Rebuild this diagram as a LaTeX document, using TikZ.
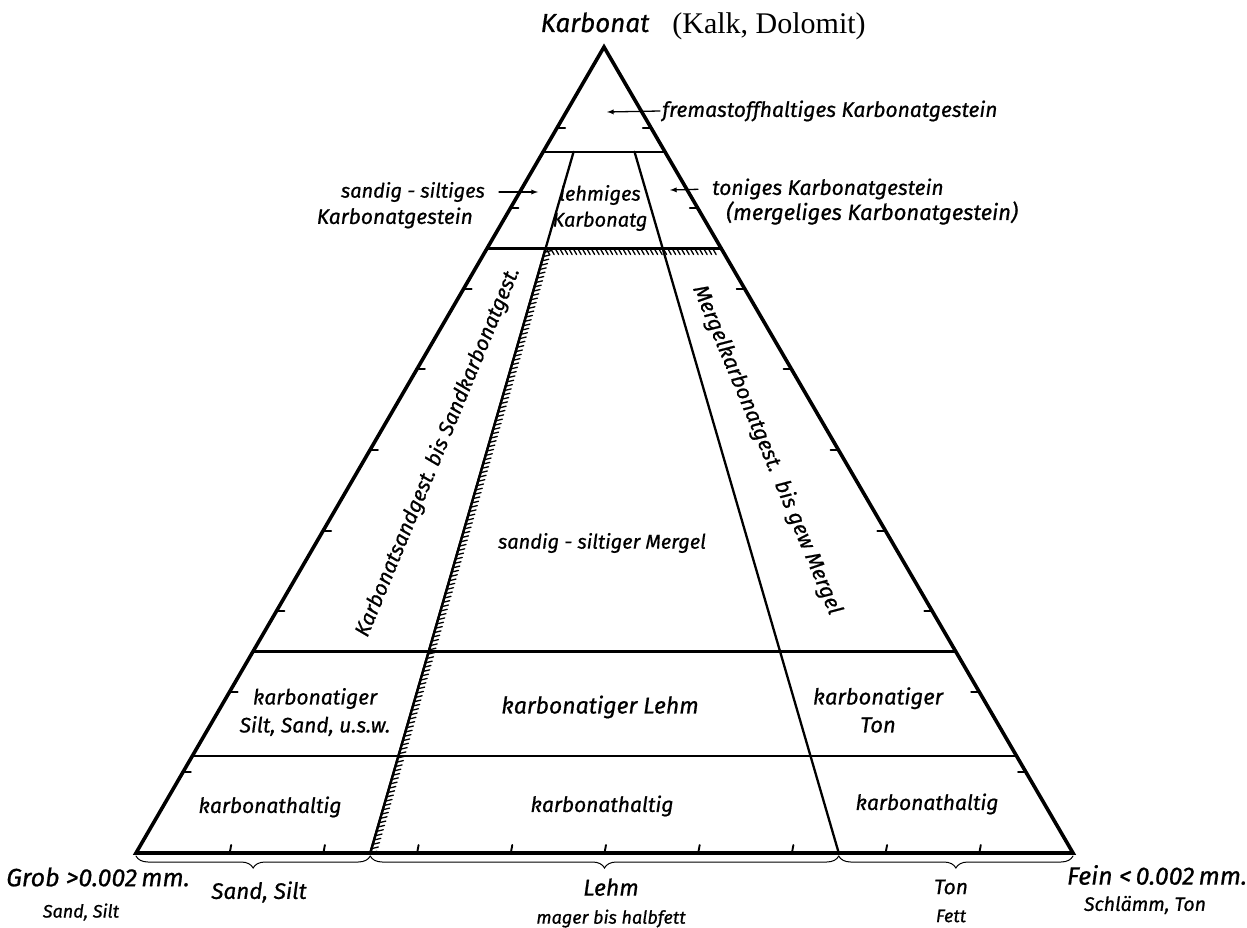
\documentclass[tikz,border=0pt]{standalone}
\usepackage{fontspec}
\setmainfont{Fira Sans}[FakeBold=0.7]
\newfontfamily\serifrm{Liberation Serif}
\usetikzlibrary{calc,positioning,decorations.pathreplacing}
\tikzset{
rand/.style={line width=3.6pt, line join=miter}, % outline of the triangle
grenze/.style={line width=2.3pt}, % class boundaries
skala/.style={line width=1.9pt}, % the 10 % marks
schraffur/.style={grenze, postaction={draw, decorate, line width=1.3pt,
    decoration={border, segment length=4.5pt, amplitude=7pt, angle=60, mirror}}},
klammer/.style={line width=1pt, decorate, decoration={brace, mirror, amplitude=12pt}},
pfeil/.style={->, line width=1.3pt},
txt/.style={font=\itshape\fontsize{21}{28}\selectfont, inner sep=2pt},
gross/.style={font=\itshape\fontsize{25}{30}\selectfont, inner sep=2pt},
klein/.style={font=\itshape\fontsize{18}{20}\selectfont, inner sep=2pt},
}
\newcommand{\fs}[1]{\fontsize{#1}{#1}\selectfont}

\begin{document}
\begin{tikzpicture}[x=1pt,y=-1pt,>=latex,line cap=round]
        \useasboundingbox (0,0) rectangle (1247,928);
        \coordinate (grob) at (136,853);
        \coordinate (fein) at (1073,853);
        \coordinate (karb) at (604,47);
        \coordinate (b25) at ($(grob)!0.25!(fein)$);
        \coordinate (b75) at ($(grob)!0.75!(fein)$);
        % waagrechte Grenzen
        \foreach \t in {0.12,0.25,0.75,0.87}
            \draw[grenze] ($(grob)!\t!(karb)$) -- ($(fein)!\t!(karb)$);
        % Strahlen zur Spitze
        \draw[grenze] (b25) -- ($(b25)!0.87!(karb)$);
        \draw[grenze] (b75) -- ($(b75)!0.87!(karb)$);
        \draw[schraffur] (b25) -- ($(b25)!0.75!(karb)$) -- ($(fein)!0.75!(karb)$);
        % Teilstriche
        \foreach \k in {1,...,9}{
            \draw[skala] ($(grob)!\k/10!(karb)$) -- ++(8,0);
            \draw[skala] ($(fein)!\k/10!(karb)$) -- ++(-8,0);
            \draw[skala] ($(grob)!\k/10!(fein)$) -- ++(1.5,-8);
        }
        \draw[rand] (grob) -- (karb) -- (fein) -- cycle;
        % Klammern unten
        \draw[klammer] ($(grob)+(0,3)$) -- ($(b25)+(0,3)$);
        \draw[klammer] ($(b25)+(0,3)$) -- ($(b75)+(0,3)$);
        \draw[klammer] ($(b75)+(0,3)$) -- ($(fein)+(0,3)$);

        \node[font=\itshape\fs{26}, anchor=base] (karbtxt) at (595,32) {Karbonat};
        \node[font=\serifrm\fs{30}, anchor=base] (kalk) at (769,34) {(Kalk, Dolomit)};

        \node[txt, anchor=west] (fremd) at (660,111) {fremastoffhaltiges Karbonatgestein};
        \coordinate (fremdpfeil) at (607,112);
        \draw[pfeil] (fremd.west) -- (fremdpfeil);

        \node[txt, font=\itshape\fs{20}, anchor=east] (sand1) at (487,192) {sandig - siltiges};
        \node[txt, anchor=east] (sand2) at (475,218) {Karbonatgestein};
        \coordinate (sandpfeil) at (538,192);
        \draw[pfeil, shorten <=12pt] (sand1.east) -- (sandpfeil);

        \node[txt, font=\itshape\fontsize{20}{26}\selectfont, align=center] (lehmkarb) at (600,208) {lehmiges\\Karbonatg};

        \node[txt, anchor=west] (ton1) at (710,189) {toniges Karbonatgestein};
        \node[txt, font=\itshape\fs{22}, anchor=west] (ton2) at (724,213) {(mergeliges Karbonatgestein)};
        \coordinate (tonpfeil) at (670,190);
        \draw[pfeil, shorten <=12pt] (ton1.west) -- (tonpfeil);

        \node[txt, rotate=67.5] (links) at (438,452) {Karbonatsandgest.\ bis Sandkarbonatgest.};
        \node[txt, font=\itshape\fs{21.5}, rotate=-67.3] (rechts) at (767,450) {Mergelkarbonatgest.\ \ bis gew Mergel};

        \node[txt, font=\itshape\fs{20}] (mergel) at (602,543) {sandig - siltiger Mergel};
        \node[txt, align=center] (ksilt) at (315,712) {karbonatiger\\Silt, Sand, u.s.w.};
        \node[txt, font=\itshape\fs{23}] (klehm) at (600,707) {karbonatiger Lehm};
        \node[txt, font=\itshape\fontsize{22}{28}\selectfont, align=center] (kton) at (878,710) {karbonatiger\\Ton};
        \node[txt] (khalt1) at (270,807) {karbonathaltig};
        \node[txt] (khalt2) at (602,806) {karbonathaltig};
        \node[txt] (khalt3) at (927,804) {karbonathaltig};

        \node[gross] (grobtxt) at (98,877) {Grob >0.002\,mm.};
        \node[klein] (grobsub) at (81,912) {Sand, Silt};
        \node[txt, font=\itshape\fs{22.5}] (sandsilt) at (259,892) {Sand, Silt};
        \node[txt, align=center] (lehm) at (611,903) {{\fs{23}Lehm}\\{\fs{18}mager bis halbfett}};
        \node[txt, align=center] (ton) at (951,901) {{\fs{21}Ton}\\{\fs{18}Fett}};
        \node[gross] (feintxt) at (1157,875) {Fein <\,0.002\,mm.};
        \node[klein, font=\itshape\fs{19.5}] (feinsub) at (1145,905) {Schlämm, Ton};
\end{tikzpicture}
\end{document}
